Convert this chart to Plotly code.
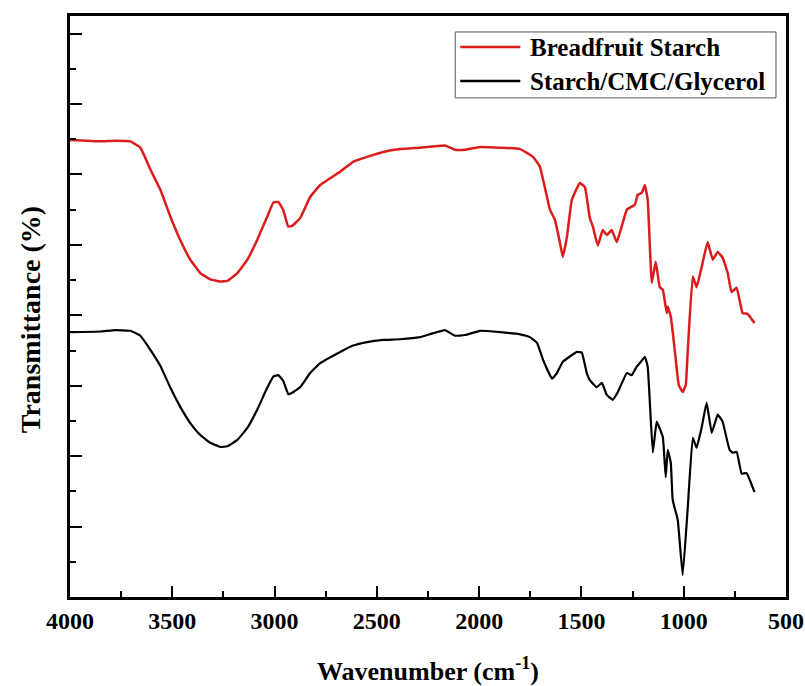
import plotly.graph_objects as go

# Breadfruit Starch (wavenumber cm^-1, transmittance a.u.)
wn_red = [4000, 3851, 3780, 3705, 3656, 3607, 3558, 3509, 3461, 3412, 3363, 3314, 3265, 3231,
          3182, 3133, 3085, 3036, 3006, 2982, 2958, 2933, 2914, 2875, 2826, 2777, 2679, 2616,
          2548, 2469, 2386, 2289, 2167, 2118, 2069, 1996, 1898, 1800, 1737, 1703, 1654, 1630,
          1605, 1591, 1571, 1547, 1508, 1483, 1459, 1444, 1420, 1396, 1376, 1352, 1327, 1278,
          1239, 1225, 1205, 1190, 1176, 1156, 1137, 1117, 1102, 1083, 1078, 1063, 1044, 1024,
          1005, 990, 980, 956, 937, 912, 883, 858, 834, 810, 785, 766, 741, 712, 688, 654]
tr_red = [64.9, 64.7, 64.8, 64.7, 63.8, 60.7, 57.8, 54.0, 50.7, 47.9, 46.0, 45.1, 44.8, 44.9,
          46.0, 47.9, 50.7, 54.0, 56.0, 56.1, 55.0, 52.6, 52.7, 53.8, 56.8, 58.5, 60.4, 61.8,
          62.5, 63.2, 63.6, 63.8, 64.1, 63.5, 63.5, 63.9, 63.8, 63.6, 62.5, 61.1, 55.0, 53.6,
          50.3, 48.3, 51.1, 56.4, 58.8, 58.2, 53.8, 52.6, 49.9, 52.1, 51.4, 52.1, 50.4, 55.0,
          55.7, 57.1, 57.4, 58.5, 56.4, 44.6, 47.6, 44.0, 43.6, 40.3, 41.2, 39.8, 35.1, 30.1,
          29.1, 30.1, 35.1, 45.5, 44.0, 46.9, 50.4, 47.9, 49.0, 48.2, 46.0, 43.3, 43.9, 40.3, 40.2, 38.9]

# Starch/CMC/Glycerol
wn_blk = [4000, 3851, 3780, 3705, 3656, 3607, 3558, 3509, 3461, 3412, 3363, 3314, 3265, 3231,
          3182, 3133, 3085, 3036, 3006, 2982, 2958, 2933, 2914, 2875, 2826, 2777, 2679, 2616,
          2548, 2469, 2386, 2289, 2167, 2118, 2069, 1996, 1898, 1800, 1752, 1717, 1688, 1644,
          1620, 1591, 1522, 1498, 1474, 1459, 1425, 1400, 1376, 1347, 1322, 1278, 1254, 1230,
          1215, 1190, 1176, 1151, 1132, 1102, 1088, 1078, 1063, 1054, 1029, 1005, 980, 956,
          937, 912, 888, 863, 834, 810, 776, 761, 741, 717, 693, 654]
tr_blk = [37.6, 37.7, 37.9, 37.8, 37.1, 35.1, 32.8, 29.7, 27.0, 24.7, 23.0, 21.9, 21.3, 21.4,
          22.3, 24.0, 26.6, 29.7, 31.3, 31.5, 30.7, 28.8, 29.0, 29.8, 31.8, 33.2, 34.8, 35.7,
          36.2, 36.5, 36.6, 36.9, 37.9, 37.1, 37.2, 37.8, 37.6, 37.3, 36.9, 36.1, 33.7, 31.0,
          31.8, 33.4, 34.8, 34.7, 31.8, 30.8, 29.8, 30.4, 28.7, 28.0, 29.1, 31.8, 31.5, 32.7,
          33.2, 34.1, 32.7, 20.5, 24.9, 22.7, 17.0, 20.9, 19.0, 13.8, 10.9, 3.1, 12.8, 22.6,
          21.2, 24.1, 27.6, 23.3, 25.9, 24.9, 20.9, 20.5, 20.6, 17.5, 17.6, 14.9]

x_ticks = [4000, 3500, 3000, 2500, 2000, 1500, 1000, 500]
series_names = ["Breadfruit Starch", "Starch/CMC/Glycerol"]
series_colors = ["#dc1c1c", "#000000"]

FONT = "Liberation Serif"

fig = go.Figure()
fig.add_trace(go.Scatter(x=wn_red, y=tr_red, mode="lines", name=series_names[0], showlegend=False,
                         line=dict(color=series_colors[0], width=2.5, shape="spline", smoothing=0.3)))
fig.add_trace(go.Scatter(x=wn_blk, y=tr_blk, mode="lines", name=series_names[1], showlegend=False,
                         line=dict(color=series_colors[1], width=2.2, shape="spline", smoothing=0.3)))

# legend drawn as a box with line samples and labels (paper coordinates)
shapes = [dict(type="rect", xref="paper", yref="paper", x0=0.538, x1=0.986, y0=0.859, y1=0.9725,
               line=dict(color="#555555", width=1), fillcolor="white", layer="above")]
annotations = []
row_y = [0.9466, 0.888]
for name, color, yy in zip(series_names, series_colors, row_y):
    shapes.append(dict(type="line", xref="paper", yref="paper", x0=0.545, x1=0.629, y0=yy, y1=yy,
                       line=dict(color=color, width=2.5), layer="above"))
    annotations.append(dict(text=name, xref="paper", yref="paper", x=0.640, y=yy,
                            xanchor="left", yanchor="middle", showarrow=False,
                            font=dict(family=FONT, size=25, color="black", weight="bold")))

annotations.append(dict(text="Transmittance (%)", xref="paper", yref="paper",
                        x=-0.056, y=0.478, xanchor="center", yanchor="middle",
                        textangle=-90, showarrow=False,
                        font=dict(family=FONT, size=28, color="black", weight="bold")))
annotations.append(dict(text="Wavenumber (cm<sup>-1</sup>)", xref="paper", yref="paper",
                        x=0.5, y=-0.1256, xanchor="center", yanchor="middle", showarrow=False,
                        font=dict(family=FONT, size=26, color="black", weight="bold")))

fig.update_layout(
    width=805, height=686,
    margin=dict(l=69.5, r=19, t=16, b=89, autoexpand=False),
    paper_bgcolor="white", plot_bgcolor="white",
    font=dict(family=FONT, color="black", size=24, weight="bold"),
    showlegend=False,
    xaxis=dict(range=[4000, 500], tickvals=x_ticks, ticktext=[str(v) for v in x_ticks],
               ticks="inside", ticklen=11, tickwidth=2.2, tickcolor="black",
               showline=True, linewidth=2.6, linecolor="black", mirror=True,
               showgrid=False, zeroline=False, automargin=False,
               tickfont=dict(family=FONT, size=24, color="black", weight="bold"),
               minor=dict(dtick=250, ticks="inside", ticklen=6, tickwidth=2, tickcolor="black", showgrid=False)),
    yaxis=dict(range=[0, 82.5], dtick=10, tick0=0, showticklabels=False,
               ticks="inside", ticklen=12, tickwidth=2.2, tickcolor="black",
               showline=True, linewidth=2.6, linecolor="black", mirror=True,
               showgrid=False, zeroline=False, automargin=False,
               minor=dict(dtick=5, ticks="inside", ticklen=6, tickwidth=2, tickcolor="black", showgrid=False)),
    shapes=shapes,
    annotations=annotations,
)

fig.write_html("out.html", config={"displayModeBar": False},
               post_script="document.body.style.margin='0';document.body.style.overflow='hidden';")
